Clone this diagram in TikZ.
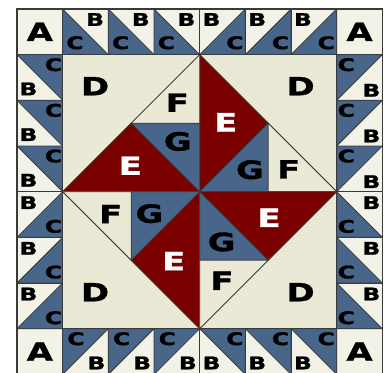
\documentclass[tikz,border=0pt]{standalone}
\usepackage{fontspec}
\newfontfamily\quiltfont[FakeStretch=1.35, FakeBold=1.4]{DejaVu Sans}
\usetikzlibrary{calc}
\definecolor{patchblue}{HTML}{486689}
\definecolor{patchred}{HTML}{7A0000}
\definecolor{paleB}{HTML}{F3F2E6}
\definecolor{paleD}{HTML}{EAE9D5}
\definecolor{seam}{HTML}{3A3A3A}
\tikzset{
  patch/.style={draw=seam, line width=0.5pt, line join=round},
  bigletter/.style={font=\quiltfont\bfseries\fontsize{15.6}{15.6}\selectfont, inner sep=0pt},
  smallletter/.style={font=\quiltfont\bfseries\fontsize{10.8}{10.8}\selectfont, inner sep=0pt},
  every node/.append style={text=black}
}

\begin{document}
\begin{tikzpicture}
\clip (-0.372,0.044) rectangle (8.079,8.197);
\fill[white] (-0.372,0.044) rectangle (8.079,8.197);
% border cells
\foreach \i in {0,...,7} {
  \foreach \j in {0,7} {\draw[patch, fill=paleB] (\i,\j) rectangle ++(1,1);}
}
\foreach \j in {1,...,6} {
  \foreach \i in {0,7} {\draw[patch, fill=paleB] (\i,\j) rectangle ++(1,1);}
}
\foreach \i in {1,2,3} {
  \draw[patch, fill=patchblue] (\i,8) -- (\i,7) -- (\i+1,7) -- cycle;
  \node[smallletter] (tC\i) at (\i+0.27,7.26) {C};
  \node[smallletter] (tB\i) at (\i+0.71,7.77) {B};
  \draw[patch, fill=patchblue] (\i,0) -- (\i,1) -- (\i+1,1) -- cycle;
  \node[smallletter] (bC\i) at (\i+0.29,0.78) {C};
  \node[smallletter] (bB\i) at (\i+0.74,0.25) {B};
}
\foreach \i in {4,5,6} {
  \draw[patch, fill=patchblue] (\i,7) -- (\i+1,7) -- (\i+1,8) -- cycle;
  \node[smallletter] (tB\i) at (\i+0.26,7.77) {B};
  \node[smallletter] (tC\i) at (\i+0.77,7.26) {C};
  \draw[patch, fill=patchblue] (\i,1) -- (\i+1,1) -- (\i+1,0) -- cycle;
  \node[smallletter] (bC\i) at (\i+0.77,0.78) {C};
  \node[smallletter] (bB\i) at (\i+0.26,0.25) {B};
}
\foreach \j in {4,5,6} {
  \draw[patch, fill=patchblue] (0,\j+1) -- (1,\j+1) -- (1,\j) -- cycle;
  \node[smallletter] (lC\j) at (0.8,\j+0.78) {C};
  \node[smallletter] (lB\j) at (0.25,\j+0.25) {B};
  \draw[patch, fill=patchblue] (8,\j+1) -- (7,\j+1) -- (7,\j) -- cycle;
  \node[smallletter] (rC\j) at (7.21,\j+0.78) {C};
  \node[smallletter] (rB\j) at (7.76,\j+0.22) {B};
}
\foreach \j in {1,2,3} {
  \draw[patch, fill=patchblue] (0,\j) -- (1,\j) -- (1,\j+1) -- cycle;
  \node[smallletter] (lB\j) at (0.25,\j+0.76) {B};
  \node[smallletter] (lC\j) at (0.8,\j+0.24) {C};
  \draw[patch, fill=patchblue] (7,\j+1) -- (7,\j) -- (8,\j) -- cycle;
  \node[smallletter] (rB\j) at (7.76,\j+0.76) {B};
  \node[smallletter] (rC\j) at (7.21,\j+0.24) {C};
}
\foreach \x/\y [count=\k] in {0.5/7.5, 7.5/7.5, 0.5/0.5, 7.5/0.5} {
  \node[bigletter] (A\k) at (\x,\y) {A};
}
% centre square
\draw[patch, fill=paleD] (1,1) rectangle (7,7);
\draw[patch] (4,7) -- (7,4) -- (4,1) -- (1,4) -- cycle;
\foreach \a [count=\k] in {0,90,180,270} {
  \begin{scope}[rotate around={\a:(4,4)}]
    \draw[patch, fill=patchred] (4,4) -- (4,7) -- (5.5,5.5) -- cycle;
    \draw[patch, fill=patchblue] (4,4) -- (5.5,5.5) -- (5.5,4) -- cycle;
    \draw[patch, fill=paleD] (5.5,5.5) -- (7,4) -- (5.5,4) -- cycle;
    \node[bigletter, text=white] (E\k) at (4.57,5.52) {E};
    \node[bigletter] (G\k) at (5.1,4.48) {G};
    \node[bigletter] (F\k) at (5.95,4.49) {F};
  \end{scope}
}
\foreach \x/\y [count=\k] in {1.71/6.31, 6.21/6.31, 1.71/1.80, 6.21/1.80} {
  \node[bigletter] (D\k) at (\x,\y) {D};
}
\draw[seam, line width=0.9pt] (0,0) rectangle (8,8);
\end{tikzpicture}
\end{document}
